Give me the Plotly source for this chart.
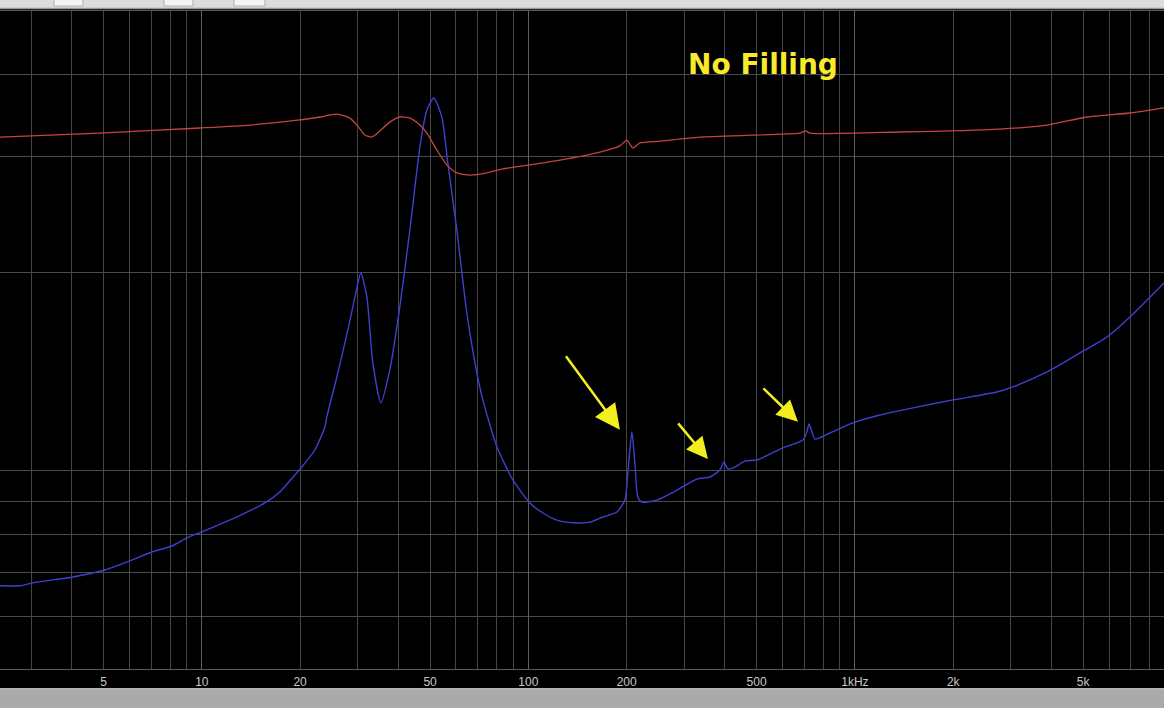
import math
import plotly.graph_objects as go

# ---------------- data ----------------
# impedance curve (blue): frequency in Hz, impedance in ohms
freq_imp = [2.41, 2.77, 3.04, 4.03, 5.05, 6.02, 7.03, 8.09, 9.00, 10.0,
            13.36, 15.60, 17.34, 19.27, 20.24, 22.19, 23.81, 24.15, 25.91, 28.01,
            29.40, 30.69, 32.02, 33.40, 35.34, 37.65, 40.40, 43.37, 46.54, 48.89,
            51.35, 54.33, 56.67, 60.39, 64.80, 69.55, 72.54, 80.10, 89.65, 101.1,
            110.8, 122.3, 136.9, 154.3, 169.1, 186.7, 197.5, 201.7, 207.5, 211.9,
            216.4, 222.6, 247.5, 285.0, 328.1, 359.6, 385.8, 397.0, 408.3, 422.9,
            460.3, 501.1, 601.6, 692.9, 712.9, 723.0, 738.5, 754.3, 838.0, 985.9,
            1193, 1506, 1996, 2722, 3047, 3873, 4889, 5912, 6956, 8841]
impedance = [6.69, 6.69, 6.76, 6.90, 7.07, 7.30, 7.53, 7.69, 7.91, 8.08,
             8.60, 8.94, 9.29, 9.86, 10.14, 10.76, 11.66, 12.08, 13.89, 16.38,
             18.32, 19.99, 18.38, 14.59, 12.69, 14.24, 17.75, 23.24, 31.07, 35.36,
             36.88, 34.51, 29.38, 23.24, 17.38, 14.09, 12.82, 10.88, 9.69, 8.94,
             8.63, 8.42, 8.34, 8.36, 8.51, 8.66, 9.03, 9.93, 11.47, 10.28,
             9.13, 8.97, 9.03, 9.35, 9.72, 9.79, 10.03, 10.32, 10.07, 10.10,
             10.35, 10.39, 10.84, 11.14, 11.47, 11.79, 11.47, 11.18, 11.42, 11.83,
             12.16, 12.47, 12.82, 13.18, 13.42, 14.14, 15.11, 15.98, 17.14, 19.30]

# phase curve (red): frequency in Hz, phase in degrees
freq_phase = [2.41, 4.87, 9.86, 14.03, 19.96, 22.98, 25.91, 28.41, 30.05, 31.56,
              33.17, 35.10, 37.65, 40.40, 43.37, 46.54, 48.89, 52.45, 56.28, 60.39,
              66.19, 74.63, 83.54, 101.1, 125.0, 165.6, 190.6, 200.3, 204.6, 208.9,
              219.5, 252.8, 335.2, 678.4, 707.8, 728.0, 1373, 2780, 3873, 5134,
              6956, 8841]
phase = [55.5, 56.6, 58.0, 58.8, 60.2, 61.0, 61.8, 60.7, 58.5, 56.1,
         55.5, 57.2, 59.6, 61.0, 60.7, 58.8, 56.6, 52.0, 47.9, 45.7,
         45.1, 45.7, 46.8, 47.9, 49.2, 51.4, 53.1, 54.7, 53.6, 52.5,
         53.9, 54.4, 55.5, 56.6, 57.2, 56.6, 56.9, 57.7, 58.8, 61.0,
         62.1, 63.5]

# marked resonances (Hz, ohms) pointed at by arrows
marked_freq = [207.5, 397.0, 723.0]
marked_imp = [11.47, 10.32, 11.79]

# axes
x_grid = [3, 4, 5, 6, 7, 8, 9, 10, 20, 30, 40, 50, 60, 70, 80, 90,
          100, 200, 300, 400, 500, 600, 700, 800, 900,
          1000, 2000, 3000, 4000, 5000, 6000, 7000, 8000]
x_labels = {5: "5", 10: "10", 20: "20", 50: "50", 100: "100", 200: "200",
            500: "500", 1000: "1kHz", 2000: "2k", 5000: "5k"}
x_decades = [10, 100, 1000]
y_grid = [5, 6, 7, 8, 9, 10, 20, 30, 40, 50]
x_range_hz = [2.41, 8841]
y_range_ohm = [5, 50]
phase_range = [-90, 90]
title_text = "No Filling"

# ---------------- figure ----------------
fig = go.Figure()

fig.add_trace(go.Scatter(
    x=freq_phase, y=phase, mode="lines", xaxis="x2", yaxis="y2",
    line=dict(color="#c4453f", width=1.3, shape="spline", smoothing=0.6),
    hoverinfo="skip", showlegend=False))

fig.add_trace(go.Scatter(
    x=freq_imp, y=impedance, mode="lines",
    line=dict(color="#3f3fd0", width=1.4, shape="spline", smoothing=0.6),
    hoverinfo="skip", showlegend=False))

xr = [math.log10(v) for v in x_range_hz]
yr = [math.log10(v) for v in y_range_ohm]

fig.update_layout(
    width=1164, height=708,
    margin=dict(l=0, r=0, t=11, b=39),
    paper_bgcolor="black", plot_bgcolor="black",
    showlegend=False,
    xaxis=dict(type="log", range=xr, tickvals=x_grid,
               ticktext=[x_labels.get(v, "") for v in x_grid],
               showgrid=True, gridcolor="#454545", gridwidth=1,
               ticks="", zeroline=False, ticklabelstandoff=2,
               showline=True, mirror=True, linecolor="#5a5a5a", linewidth=1,
               tickfont=dict(family="Liberation Sans, Arial", size=12, color="#c8c8c8"),
               fixedrange=True),
    xaxis2=dict(type="log", range=xr, overlaying="x", tickvals=x_decades,
                showgrid=True, gridcolor="#5e5e5e", gridwidth=1,
                showticklabels=False, ticks="", zeroline=False, showline=False,
                anchor="y"),
    yaxis=dict(type="log", range=yr, tickvals=y_grid, showticklabels=False,
               showgrid=True, gridcolor="#4a4a4a", gridwidth=1, ticks="",
               zeroline=False, showline=False, fixedrange=True),
    yaxis2=dict(range=phase_range, overlaying="y", visible=False,
                showgrid=False, zeroline=False, anchor="x2"),
)

# title text
fig.add_annotation(text="<b>" + title_text + "</b>", xref="paper", yref="paper",
                   x=0.589, y=0.918, xanchor="left", yanchor="middle",
                   showarrow=False,
                   font=dict(family="DejaVu Sans", size=28, color="#f6ea2a"))

# arrows pointing to the marked resonances
arrow_offsets = [(-55, -75), (-31, -37), (-36, -35)]
arrow_shift = [(-12, 2), (-16, 3), (-11, 2)]
arrow_sizes = [2.0, 1.7, 1.7]
for f, z, (ax, ay), (xs, ys), sz in zip(marked_freq, marked_imp, arrow_offsets,
                                        arrow_shift, arrow_sizes):
    fig.add_annotation(x=math.log10(f), y=math.log10(z), xref="x", yref="y",
                       text="", showarrow=True, ax=ax, ay=ay,
                       xshift=xs, yshift=ys,
                       arrowhead=2, arrowsize=sz, arrowwidth=2.5,
                       arrowcolor="#f3ee1e", standoff=0)

# window chrome: toolbar strip on top, status bar on bottom
P = 658.0
def py(px):
    return (669 - px) / P

fig.add_shape(type="rect", xref="paper", yref="paper", x0=0, x1=1,
              y0=py(8), y1=py(-1), fillcolor="#dcdcdc", line=dict(width=0))
fig.add_shape(type="line", xref="paper", yref="paper", x0=0, x1=1,
              y0=py(8.5), y1=py(8.5), line=dict(color="#9a9a9a", width=1.5))
for bx0, bx1 in [(54, 83), (164, 193), (234, 265)]:
    fig.add_shape(type="rect", xref="paper", yref="paper",
                  x0=bx0 / 1164, x1=bx1 / 1164, y0=py(6), y1=py(-1),
                  fillcolor="#f4f4f4", line=dict(color="#b0b0b0", width=1))
fig.add_shape(type="line", xref="paper", yref="paper", x0=0, x1=1,
              y0=py(689), y1=py(689), line=dict(color="#f0f0f0", width=1.5))
fig.add_shape(type="rect", xref="paper", yref="paper", x0=0, x1=1,
              y0=py(709), y1=py(690), fillcolor="#aaaaaa", line=dict(width=0))

fig.write_html("out.html",
               config={"displayModeBar": False},
               post_script="document.body.style.margin='0px';"
                           "document.body.style.overflow='hidden';")
